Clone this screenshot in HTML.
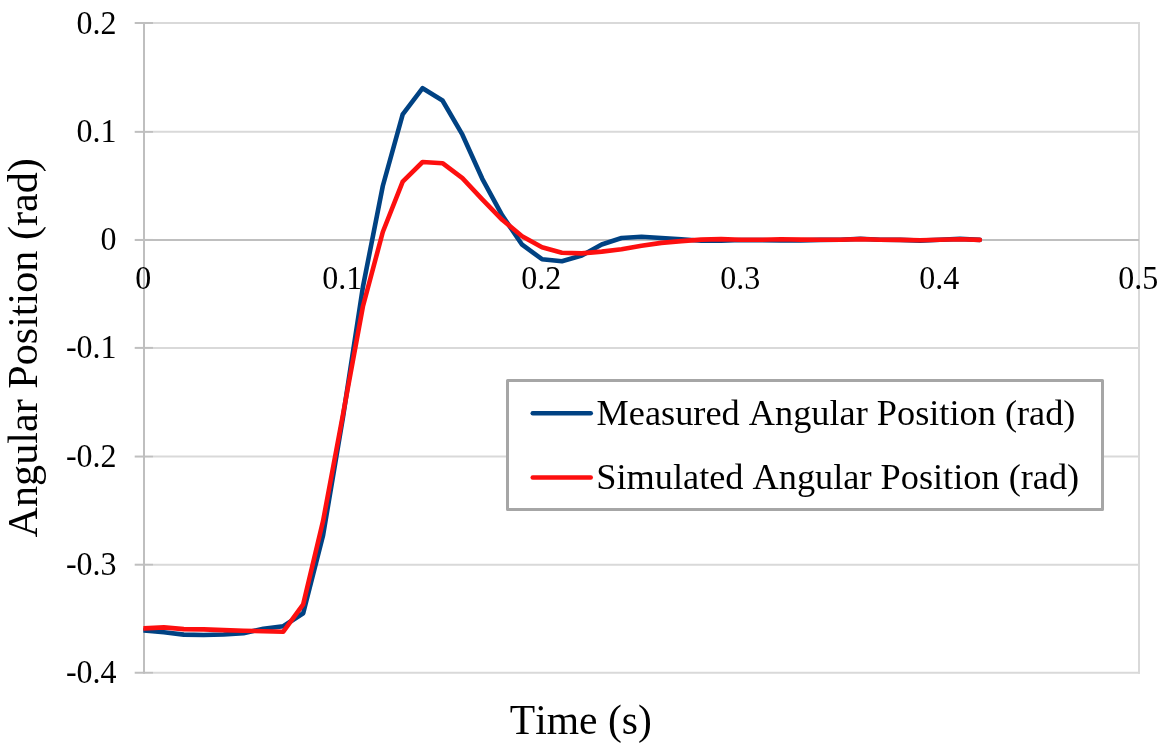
<!DOCTYPE html>
<html lang="en"><head><meta charset="utf-8"><title>Angular Position vs Time</title>
<style>
html,body{margin:0;padding:0;background:#fff;}
body{width:1164px;height:750px;overflow:hidden;}
svg{display:block;}
text{font-family:"Liberation Serif","Times New Roman",Times,serif;fill:#000;font-kerning:none;}
.tk{font-size:32px;}
.lg{font-size:36.3px;}
.ti{font-size:42px;}
</style></head><body>
<svg width="1164" height="750" viewBox="0 0 1164 750">
<rect width="1164" height="750" fill="#fff"/>
<defs><clipPath id="pc"><rect x="143.3" y="0" width="1020" height="750"/></clipPath></defs>
<line x1="153" y1="23.0" x2="1140" y2="23.0" stroke="#d9d9d9" stroke-width="2"/>
<line x1="153" y1="131.85" x2="1140" y2="131.85" stroke="#d9d9d9" stroke-width="2"/>
<line x1="153" y1="347.9" x2="1140" y2="347.9" stroke="#d9d9d9" stroke-width="2"/>
<line x1="153" y1="456.55" x2="1140" y2="456.55" stroke="#d9d9d9" stroke-width="2"/>
<line x1="153" y1="564.7" x2="1140" y2="564.7" stroke="#d9d9d9" stroke-width="2"/>
<line x1="153" y1="672.75" x2="1140" y2="672.75" stroke="#d9d9d9" stroke-width="2"/>
<line x1="1139" y1="22.0" x2="1139" y2="673.75" stroke="#d9d9d9" stroke-width="2"/>
<line x1="135" y1="239.95" x2="1139" y2="239.95" stroke="#bfbfbf" stroke-width="2"/>
<line x1="144" y1="22.0" x2="144" y2="673.75" stroke="#bfbfbf" stroke-width="2"/>
<line x1="134.7" y1="23.0" x2="153" y2="23.0" stroke="#bfbfbf" stroke-width="2"/>
<line x1="134.7" y1="131.85" x2="153" y2="131.85" stroke="#bfbfbf" stroke-width="2"/>
<line x1="134.7" y1="239.95" x2="153" y2="239.95" stroke="#bfbfbf" stroke-width="2"/>
<line x1="134.7" y1="347.9" x2="153" y2="347.9" stroke="#bfbfbf" stroke-width="2"/>
<line x1="134.7" y1="456.55" x2="153" y2="456.55" stroke="#bfbfbf" stroke-width="2"/>
<line x1="134.7" y1="564.7" x2="153" y2="564.7" stroke="#bfbfbf" stroke-width="2"/>
<line x1="134.7" y1="672.75" x2="153" y2="672.75" stroke="#bfbfbf" stroke-width="2"/>
<text class="tk" transform="translate(116.6 33.50) scale(1 1.05)" text-anchor="end">0.2</text>
<text class="tk" transform="translate(116.6 141.80) scale(1 1.05)" text-anchor="end">0.1</text>
<text class="tk" transform="translate(116.6 250.10) scale(1 1.05)" text-anchor="end">0</text>
<text class="tk" transform="translate(116.6 358.40) scale(1 1.05)" text-anchor="end">-0.1</text>
<text class="tk" transform="translate(116.6 466.70) scale(1 1.05)" text-anchor="end">-0.2</text>
<text class="tk" transform="translate(116.6 575.00) scale(1 1.05)" text-anchor="end">-0.3</text>
<text class="tk" transform="translate(116.6 683.30) scale(1 1.05)" text-anchor="end">-0.4</text>
<text class="tk" transform="translate(143.3 288.5) scale(1 1.05)" text-anchor="middle">0</text>
<text class="tk" transform="translate(342.3 288.5) scale(1 1.05)" text-anchor="middle">0.1</text>
<text class="tk" transform="translate(541.3 288.5) scale(1 1.05)" text-anchor="middle">0.2</text>
<text class="tk" transform="translate(740.3 288.5) scale(1 1.05)" text-anchor="middle">0.3</text>
<text class="tk" transform="translate(939.3 288.5) scale(1 1.05)" text-anchor="middle">0.4</text>
<text class="tk" transform="translate(1138.3 288.5) scale(1 1.05)" text-anchor="middle">0.5</text>
<polyline points="144.0,630.5 163.9,632.3 183.8,634.6 203.7,635.0 223.6,634.5 243.5,633.3 263.4,628.8 283.3,626.3 303.2,613.3 323.1,535.2 343.0,417.0 362.9,287.0 382.8,186.0 402.7,114.3 422.6,88.2 442.5,100.5 462.4,134.7 482.3,178.8 502.2,215.4 522.1,244.7 542.0,259.2 561.9,261.2 581.8,255.5 601.7,244.5 621.6,238.0 641.5,236.8 661.4,238.0 681.3,239.3 701.2,240.8 721.1,240.8 741.0,240.0 760.9,240.1 780.8,240.5 800.7,240.4 820.6,239.9 840.5,239.8 860.4,238.8 880.3,239.7 900.2,239.9 920.1,240.6 940.0,239.8 959.9,238.9 979.8,239.9" fill="none" stroke="#004283" stroke-width="4.6" stroke-linejoin="round" stroke-linecap="round" clip-path="url(#pc)"/>
<polyline points="144.0,628.4 163.9,627.4 183.8,629.1 203.7,629.4 223.6,630.1 243.5,630.7 263.4,631.2 283.3,631.7 303.2,604.3 323.1,520.8 343.0,414.4 362.9,306.5 382.8,232.0 402.7,181.7 422.6,162.0 442.5,163.2 462.4,178.2 482.3,199.3 502.2,219.8 522.1,236.2 542.0,247.2 561.9,252.7 581.8,253.4 601.7,251.6 621.6,249.3 641.5,245.8 661.4,242.9 681.3,241.1 701.2,239.6 721.1,239.1 741.0,239.8 760.9,239.8 780.8,239.2 800.7,239.6 820.6,239.8 840.5,239.8 860.4,239.1 880.3,239.7 900.2,239.9 920.1,240.3 940.0,239.8 959.9,239.2 979.8,239.9" fill="none" stroke="#fd0f0f" stroke-width="4.6" stroke-linejoin="round" stroke-linecap="round" clip-path="url(#pc)"/>
<rect x="507.5" y="380.5" width="595" height="129" fill="#fff" stroke="#a6a6a6" stroke-width="3" stroke-linejoin="round"/>
<line x1="532.7" y1="413.2" x2="590.8" y2="413.2" stroke="#004283" stroke-width="4.4" stroke-linecap="round"/>
<line x1="532.7" y1="477.5" x2="590.8" y2="477.5" stroke="#fd0f0f" stroke-width="4.4" stroke-linecap="round"/>
<text class="lg" x="596.6" y="424.8">Measured Angular Position (rad)</text>
<text class="lg" x="596.3" y="488.9">Simulated Angular Position (rad)</text>
<text class="ti" x="509.8" y="734.4" style="font-size:41.6px">Time (s)</text>
<text class="ti" style="font-size:42.15px" transform="translate(36.7 537.4) rotate(-90)">Angular Position (rad)</text>
</svg>
</body></html>
